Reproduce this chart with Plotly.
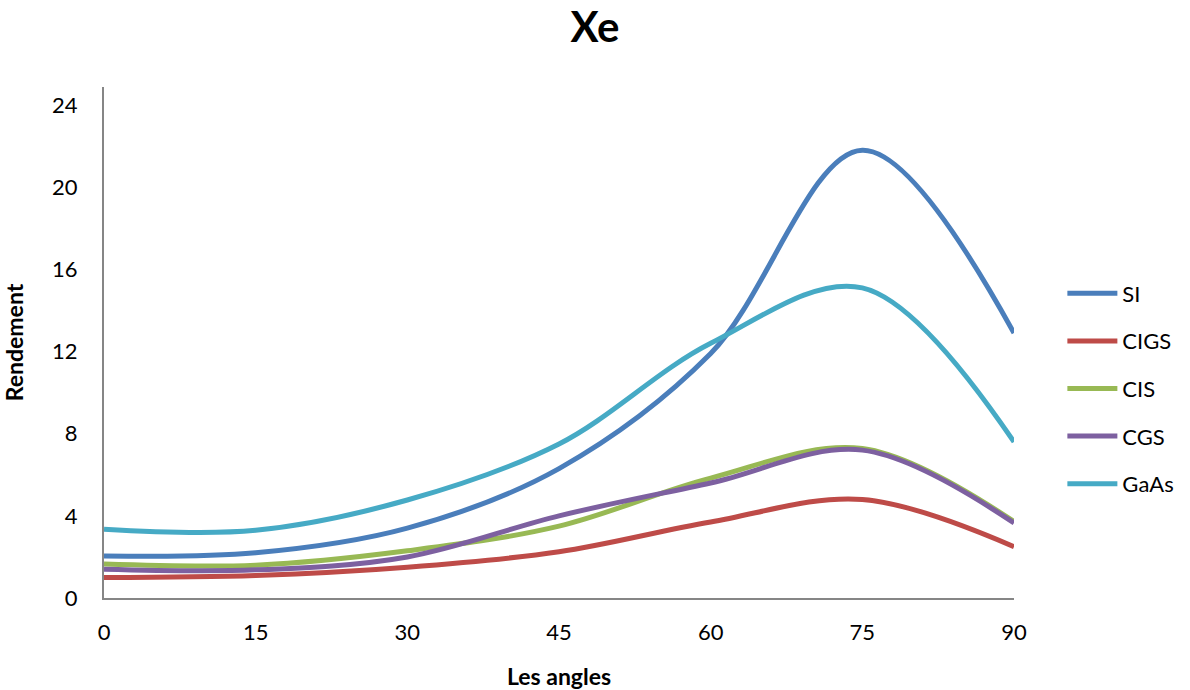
import plotly.graph_objects as go

angles = [0, 15, 30, 45, 60, 75, 90]
si = [2.05, 2.2, 3.4, 6.3, 11.9, 21.8, 12.9]
cigs = [1.0, 1.1, 1.5, 2.25, 3.7, 4.8, 2.5]
cis = [1.65, 1.6, 2.3, 3.5, 5.84, 7.28, 3.72]
cgs = [1.4, 1.37, 2.0, 4.0, 5.6, 7.2, 3.65]
gaas = [3.35, 3.3, 4.77, 7.5, 12.4, 15.1, 7.6]

series = [("SI", si, "#4A7EBB"), ("CIGS", cigs, "#BE4B48"), ("CIS", cis, "#98B954"),
          ("CGS", cgs, "#7D60A0"), ("GaAs", gaas, "#46AAC5")]

fig = go.Figure()
for name, vals, col in series:
    fig.add_trace(go.Scatter(x=angles, y=vals, name=name, mode="lines",
                             line=dict(color=col, width=5, shape="spline", smoothing=1.0),
                             legendgroup=name))

font_family = "Lato, Open Sans, sans-serif"
fig.update_layout(
    width=1190, height=690,
    paper_bgcolor="white", plot_bgcolor="white",
    margin=dict(l=104, r=175, t=87, b=92),
    title=dict(text="<b>Xe</b>", x=0.5, xanchor="center", y=0.96, yanchor="middle",
               font=dict(family=font_family, size=42, color="black")),
    font=dict(family=font_family, size=22, color="black"),
    legend=dict(x=1.052, y=0.41, xanchor="left", yanchor="middle",
                font=dict(size=22), tracegroupgap=16, itemwidth=50),
    showlegend=True,
)
fig.update_xaxes(range=[0, 90], tickvals=[0, 15, 30, 45, 60, 75, 90],
                 showgrid=False, zeroline=False, showline=True, linecolor="#868686", linewidth=2,
                 ticks="", ticklen=0, ticklabelstandoff=14, automargin=False,
                 title=dict(text="<b>Les angles</b>", font=dict(size=23), standoff=24),
                 tickfont=dict(size=22))
fig.update_yaxes(range=[0, 24.88], tickvals=[0, 4, 8, 12, 16, 20, 24],
                 showgrid=False, zeroline=False, showline=True, linecolor="#868686", linewidth=2,
                 ticks="", ticklen=0, ticklabelstandoff=20, automargin=False,
                 title=dict(text="<b>Rendement</b>", font=dict(size=23), standoff=22),
                 tickfont=dict(size=22))

fig.write_html("out.html")
